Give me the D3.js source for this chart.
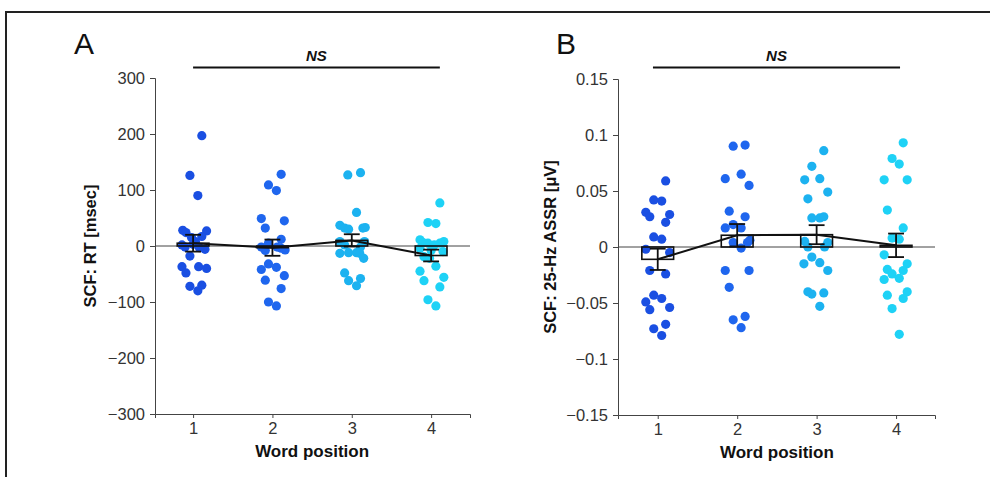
<!DOCTYPE html>
<html>
<head>
<meta charset="utf-8">
<script src="https://cdn.jsdelivr.net/npm/d3@7"></script>
<style>
  body { margin: 0; background: #fff; }
  svg { display: block; font-family: "Liberation Sans", Arial, sans-serif; }
  .axis path, .axis line { stroke: #444; }
  .axis text { fill: #333; font-size: 16.5px; font-family: "Liberation Sans", Arial, sans-serif; }
</style>
</head>
<body>
<div id="chart"></div>
<script>
// word positions (x categories)
var positions = [1, 2, 3, 4];
var dotColors = ["#1a4fe2", "#1f66ee", "#1cb2f0", "#1ed2f6"];

// panel A: RT (msec), one array per word position, with horizontal jitter in category units
var rtValues = [
  [197, 126, 90, 28, 24, 27, 17, 15, 8, 2, -2, 3, -6, -3, -18, -37, -48, -37, -40, -72, -70, -80],
  [128, 109, 99, 49, 45, 32, 12, 5, -2, -8, -4, -7, -2, -32, -42, -38, -61, -53, -76, -100, -107],
  [127, 131, 60, 37, 32, 30, 32, 33, 8, 8, 2, -2, -13, -12, -12, -13, -22, -48, -62, -58, -71],
  [77, 42, 40, 11, 6, 5, 5, 8, 2, -4, -10, -8, -19, -22, -36, -45, -62, -56, -73, -96, -107]
];
var rtJitter = [
  [0.11, -0.04, 0.06, -0.13, -0.09, 0.17, 0.11, -0.02, 0.03, -0.14, -0.10, 0.0, 0.15, 0.08, -0.04, -0.14, -0.09, 0.07, 0.17, -0.04, 0.11, 0.06],
  [0.11, -0.05, 0.05, -0.14, 0.15, -0.09, 0.11, -0.05, -0.14, -0.09, 0.11, 0.16, 0.06, -0.05, -0.14, 0.05, -0.09, 0.15, 0.11, -0.05, 0.05],
  [-0.05, 0.11, 0.06, -0.15, -0.09, -0.04, 0.14, 0.17, -0.15, 0.16, -0.09, 0.11, -0.15, -0.04, 0.06, 0.10, 0.15, -0.09, -0.04, 0.11, 0.06],
  [0.11, -0.04, 0.06, -0.14, -0.10, -0.04, 0.11, 0.16, 0.04, -0.14, 0.15, 0.0, -0.09, -0.02, 0.06, -0.14, -0.09, 0.16, 0.11, -0.04, 0.06]
];
var rtMeans = [5, -3, 10, -17];
var rtSem = [15, 14.5, 11, 10.5];
var rtTicks = [-300, -200, -100, 0, 100, 200, 300];

// panel B: 25-Hz ASSR (µV)
var assrValues = [
  [0.059, 0.042, 0.041, 0.031, 0.027, 0.029, 0.022, 0.009, 0.007, -0.002, -0.005, -0.021, -0.024, -0.043, -0.046, -0.049, -0.056, -0.054, -0.073, -0.069, -0.079],
  [0.090, 0.091, 0.061, 0.065, 0.055, 0.032, 0.027, 0.017, 0.020, 0.017, 0.004, -0.001, 0.004, 0.006, -0.021, -0.021, -0.036, -0.065, -0.062, -0.072],
  [0.086, 0.072, 0.060, 0.061, 0.049, 0.043, 0.026, 0.026, 0.027, 0.005, 0.000, 0.000, 0.004, -0.009, -0.015, -0.014, -0.021, -0.040, -0.042, -0.041, -0.053],
  [0.093, 0.079, 0.074, 0.060, 0.060, 0.033, 0.017, 0.008, 0.007, -0.007, -0.015, -0.020, -0.024, -0.029, -0.028, -0.021, -0.040, -0.046, -0.043, -0.055, -0.078]
];
var assrJitter = [
  [0.10, -0.05, 0.05, -0.15, -0.10, 0.15, 0.10, -0.05, 0.05, -0.15, 0.15, -0.10, 0.10, -0.05, 0.05, -0.15, -0.10, 0.15, -0.05, 0.10, 0.05],
  [-0.05, 0.10, -0.15, 0.05, 0.15, -0.10, 0.10, -0.15, -0.05, 0.05, -0.05, 0.05, 0.13, 0.16, -0.15, 0.15, -0.10, -0.05, 0.10, 0.05],
  [0.09, -0.06, -0.15, 0.04, 0.14, -0.11, -0.06, 0.04, 0.09, -0.15, -0.11, 0.10, 0.14, -0.06, -0.16, 0.04, 0.14, -0.11, -0.06, 0.09, 0.04],
  [0.09, -0.05, 0.04, -0.15, 0.14, -0.11, 0.09, -0.05, 0.04, -0.15, 0.14, -0.11, -0.05, -0.15, 0.04, 0.09, 0.14, 0.09, -0.11, -0.05, 0.04]
];
var assrMeans = [-0.011, 0.0105, 0.011, 0.0015];
var assrSem = [0.0095, 0.0100, 0.0085, 0.0105];
var assrTicks = [-0.15, -0.1, -0.05, 0, 0.05, 0.1, 0.15];

var W = 990, H = 477;
var svg = d3.select("#chart").append("svg")
    .attr("width", W)
    .attr("height", H);

// outer frame (top and left)
svg.append("path")
    .attr("d", "M6," + H + "V12H" + W)
    .attr("fill", "none")
    .attr("stroke", "#222")
    .attr("stroke-width", 2);

function fmt(v) {
    var s = String(Math.abs(v));
    return v < 0 ? "\u2212" + s : s;
}

function drawPanel(opt) {
    var x = d3.scaleLinear().domain(opt.xDomain).range([opt.left, opt.right]);
    var y = d3.scaleLinear().domain(opt.yDomain).range([opt.bottom, opt.top]);
    var g = svg.append("g");

    // panel letter
    g.append("text")
        .attr("x", opt.letterX)
        .attr("y", 54)
        .attr("font-size", 30)
        .attr("fill", "#111")
        .text(opt.letter);

    // y axis
    g.append("g")
        .attr("class", "axis")
        .attr("transform", "translate(" + opt.left + ",0)")
        .call(d3.axisLeft(y).tickValues(opt.yTicks).tickSizeOuter(0).tickSize(5).tickPadding(5).tickFormat(fmt));

    // x axis
    g.append("g")
        .attr("class", "axis")
        .attr("transform", "translate(0," + opt.bottom + ")")
        .call(d3.axisBottom(x).tickValues(positions).tickSizeOuter(0).tickSize(4).tickPadding(4).tickFormat(d3.format("d")));

    // zero line
    g.append("line")
        .attr("x1", opt.left).attr("x2", opt.right)
        .attr("y1", y(0)).attr("y2", y(0))
        .attr("stroke", "#444").attr("stroke-width", 1);

    // axis titles
    g.append("text")
        .attr("x", (x(1) + x(4)) / 2)
        .attr("y", opt.bottom + 43)
        .attr("text-anchor", "middle")
        .attr("font-size", 17)
        .attr("font-weight", "bold")
        .attr("fill", "#111")
        .text("Word position");
    g.append("text")
        .attr("transform", "translate(" + opt.yTitleX + "," + y(0) + ") rotate(-90)")
        .attr("text-anchor", "middle")
        .attr("font-size", 16.5)
        .attr("font-weight", "bold")
        .attr("fill", "#111")
        .text(opt.yTitle);

    // significance bar
    g.append("line")
        .attr("x1", x(opt.nsFrom)).attr("x2", x(opt.nsTo))
        .attr("y1", 67.5).attr("y2", 67.5)
        .attr("stroke", "#111").attr("stroke-width", 2);
    g.append("text")
        .attr("x", (x(opt.nsFrom) + x(opt.nsTo)) / 2)
        .attr("y", 61)
        .attr("text-anchor", "middle")
        .attr("font-size", 15)
        .attr("font-weight", "bold")
        .attr("font-style", "italic")
        .attr("fill", "#111")
        .text("NS");

    // dots
    positions.forEach(function(p, i) {
        var pts = opt.values[i].map(function(v, j) { return {x: p + opt.jitter[i][j], y: v}; });
        g.append("g").selectAll("circle")
            .data(pts)
            .enter().append("circle")
            .attr("cx", function(d) { return x(d.x); })
            .attr("cy", function(d) { return y(d.y); })
            .attr("r", 4.6)
            .attr("fill", dotColors[i]);
    });

    // mean boxes
    var bw = 0.2;
    g.append("g").selectAll("rect")
        .data(positions)
        .enter().append("rect")
        .attr("x", function(p) { return x(p - bw); })
        .attr("width", function(p) { return x(p + bw) - x(p - bw); })
        .attr("y", function(p, i) { return Math.min(y(0), y(opt.means[i])); })
        .attr("height", function(p, i) { return Math.abs(y(0) - y(opt.means[i])); })
        .attr("fill", "none")
        .attr("stroke", "#111")
        .attr("stroke-width", 1.6);

    // error bars
    var cw = 0.1;
    positions.forEach(function(p, i) {
        var lo = y(opt.means[i] - opt.sem[i]), hi = y(opt.means[i] + opt.sem[i]);
        var eb = g.append("g").attr("stroke", "#111").attr("stroke-width", 1.8);
        eb.append("line").attr("x1", x(p)).attr("x2", x(p)).attr("y1", lo).attr("y2", hi);
        eb.append("line").attr("x1", x(p - cw)).attr("x2", x(p + cw)).attr("y1", lo).attr("y2", lo);
        eb.append("line").attr("x1", x(p - cw)).attr("x2", x(p + cw)).attr("y1", hi).attr("y2", hi);
    });

    // mean line
    var meanLine = d3.line()
        .x(function(d) { return x(d); })
        .y(function(d, i) { return y(opt.means[i]); });
    g.append("path")
        .datum(positions)
        .attr("d", meanLine)
        .attr("fill", "none")
        .attr("stroke", "#111")
        .attr("stroke-width", 2);
}

drawPanel({
    letter: "A", letterX: 74,
    left: 155, right: 470, top: 78, bottom: 414,
    xDomain: [0.52, 4.49], yDomain: [-300, 300], yTicks: rtTicks,
    yTitle: "SCF: RT [msec]", yTitleX: 96,
    nsFrom: 1.0, nsTo: 4.11,
    values: rtValues, jitter: rtJitter, means: rtMeans, sem: rtSem
});

drawPanel({
    letter: "B", letterX: 556,
    left: 618, right: 935, top: 79, bottom: 415,
    xDomain: [0.5, 4.49], yDomain: [-0.15, 0.15], yTicks: assrTicks,
    yTitle: "SCF: 25-Hz ASSR [\u03bcV]", yTitleX: 556,
    nsFrom: 0.94, nsTo: 4.05,
    values: assrValues, jitter: assrJitter, means: assrMeans, sem: assrSem
});
</script>
</body>
</html>
